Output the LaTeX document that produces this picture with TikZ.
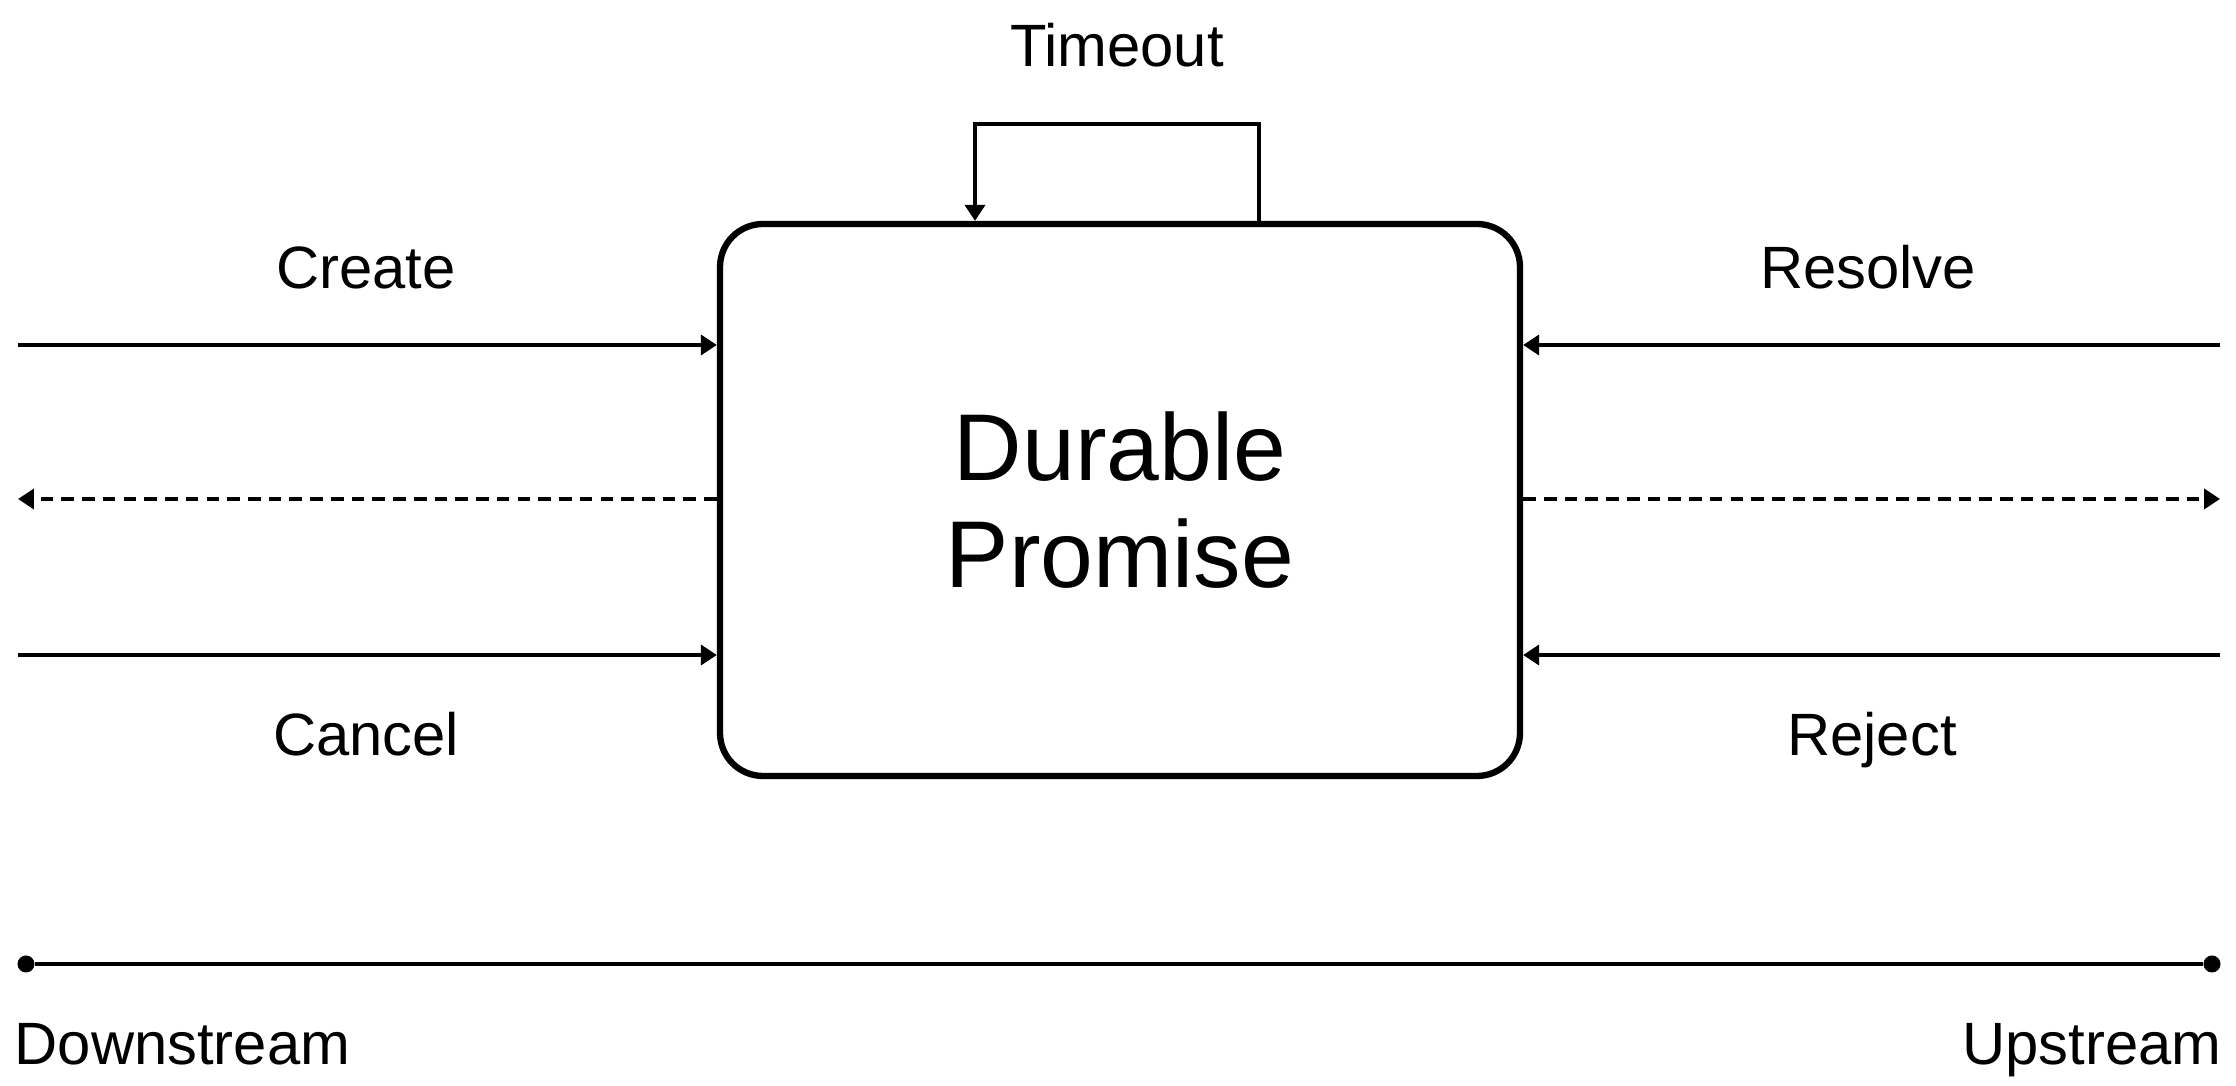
\documentclass[tikz,border=0pt]{standalone}
\usepackage{fontspec}
\setmainfont{Liberation Sans}
\usetikzlibrary{arrows.meta,positioning}

\tikzset{
    label text/.style={font=\fontsize{17}{20}\selectfont, anchor=base, inner sep=0pt},
    flow/.style={line width=1.1pt, -{Triangle[length=0.16cm, width=0.2cm]}},
    dotted flow/.style={flow, dash pattern=on 3.6pt off 2.3pt},
    end dot/.style={circle, fill=black, inner sep=0pt, minimum size=0.17cm},
}

\begin{document}
\begin{tikzpicture}
    \useasboundingbox (0, 0) rectangle (22.36, 10.86);

    % the promise itself
    \node[draw, line width=1.8pt, rounded corners=0.43cm, minimum width=8cm, minimum height=5.52cm,
          align=center, font=\fontsize{27}{30.5}\selectfont] (promise) at (11.2, 5.86) {Durable\\Promise};

    % downstream side
    \coordinate (create) at (0.18, 7.41);
    \coordinate (back) at (0.18, 5.87);
    \coordinate (cancel) at (0.18, 4.31);
    \draw[flow] (create) -- (create -| promise.west);
    \draw[dotted flow] (back -| promise.west) -- (back);
    \draw[flow] (cancel) -- (cancel -| promise.west);
    \node[label text] (createlbl) at (3.66, 7.97) {Create};
    \node[label text] (cancellbl) at (3.66, 3.30) {Cancel};

    % upstream side
    \coordinate (resolve) at (22.2, 7.41);
    \coordinate (forward) at (22.2, 5.87);
    \coordinate (reject) at (22.2, 4.31);
    \draw[flow] (resolve) -- (resolve -| promise.east);
    \draw[dotted flow] (forward -| promise.east) -- (forward);
    \draw[flow] (reject) -- (reject -| promise.east);
    \node[label text] (resolvelbl) at (18.68, 7.97) {Resolve};
    \node[label text] (rejectlbl) at (18.72, 3.30) {Reject};

    % timeout loop on top
    \coordinate (loopout) at (12.59, 9.62);
    \coordinate (loopin) at (9.75, 9.62);
    \draw[flow] (loopout |- promise.north) -- (loopout) -- (loopin) -- (loopin |- promise.north);
    \node[label text] (timeout) at (11.17, 10.19) {Timeout};

    % direction axis
    \node[end dot] (downdot) at (0.26, 1.22) {};
    \node[end dot] (updot) at (22.12, 1.22) {};
    \draw[line width=1.1pt] (downdot) -- (updot);
    \node[label text, anchor=base west] (downstream) at (0.14, 0.21) {Downstream};
    \node[label text, anchor=base east] (upstream) at (22.22, 0.21) {Upstream};
\end{tikzpicture}
\end{document}
